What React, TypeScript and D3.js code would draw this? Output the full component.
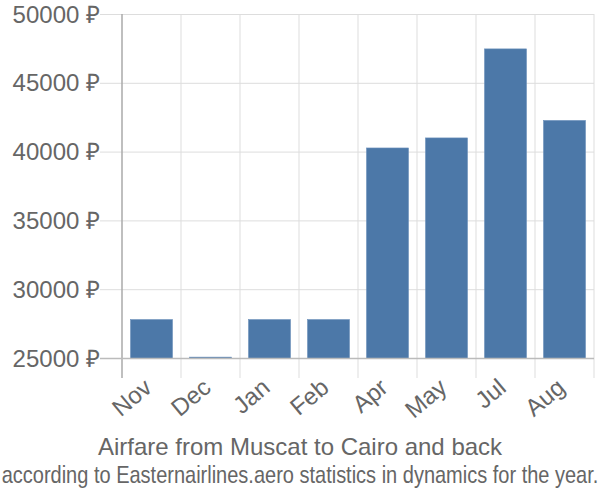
import React, { useEffect, useRef } from "react";
import * as d3 from "d3";

const months = ["Nov", "Dec", "Jan", "Feb", "Apr", "May", "Jul", "Aug"];
const prices = [27830, 25100, 27830, 27830, 40300, 41030, 47500, 42300];
const yTicks = [25000, 30000, 35000, 40000, 45000, 50000];
const title = "Airfare from Muscat to Cairo and back";
const subtitle = "according to Easternairlines.aero statistics in dynamics for the year.";

const W = 600;
const H = 500;

export default function App() {
  const ref = useRef<SVGSVGElement>(null);
  useEffect(() => {
    const svg = d3.select(ref.current);
    svg.selectAll("*").remove();
    const font = "'Liberation Sans', Arial, sans-serif";
    const x = d3.scaleBand<string>().domain(months).range([122, 594]).paddingInner(0).paddingOuter(0);
    const y = d3.scaleLinear().domain([25000, 50000]).range([358.5, 14.5]);

    const g = svg.append("g");
    g.selectAll("line.h").data(yTicks).enter().append("line")
      .attr("x1", 100).attr("x2", 594)
      .attr("y1", d => y(d)).attr("y2", d => y(d))
      .attr("stroke", "#dddddd").attr("stroke-width", 1);
    const vx = months.map(m => x(m) as number).concat([594]);
    g.selectAll("line.v").data(vx.slice(1)).enter().append("line")
      .attr("x1", d => d).attr("x2", d => d)
      .attr("y1", 14).attr("y2", 378)
      .attr("stroke", "#dddddd").attr("stroke-width", 1);
    g.append("line").attr("x1", 122).attr("x2", 122).attr("y1", 14).attr("y2", 378)
      .attr("stroke", "#aaaaaa").attr("stroke-width", 1.5);

    const bw = 42;
    g.selectAll("rect.bar").data(months).enter().append("rect")
      .attr("x", d => (x(d) as number) + (x.bandwidth() - bw) / 2)
      .attr("width", bw)
      .attr("y", (d, i) => y(prices[i]))
      .attr("height", (d, i) => y(25000) - y(prices[i]))
      .attr("fill", "#4c78a8")
      .attr("stroke", "#6b8fbb").attr("stroke-width", 0.6);

    g.append("line").attr("x1", 100).attr("x2", 594).attr("y1", y(25000)).attr("y2", y(25000))
      .attr("stroke", "#bbbbbb").attr("stroke-width", 1.5);

    g.selectAll("text.y").data(yTicks).enter().append("text")
      .attr("x", 100).attr("y", d => y(d) + 8)
      .attr("text-anchor", "end")
      .attr("font-family", font).attr("font-size", 24).attr("fill", "#666666")
      .text(d => `${d} ₽`);

    g.selectAll("text.x").data(months).enter().append("text")
      .attr("transform", d => `translate(${(x(d) as number) + x.bandwidth() / 2 + 2},${390}) rotate(-40)`)
      .attr("text-anchor", "end")
      .attr("font-family", font).attr("font-size", 24).attr("fill", "#666666")
      .text(d => d);

    svg.append("text").attr("x", 300).attr("y", 455).attr("text-anchor", "middle")
      .attr("font-family", font).attr("font-size", 24).attr("fill", "#666666").text(title);
    const sub = svg.append("text")
      .attr("text-anchor", "middle")
      .attr("font-family", font).attr("font-size", 24).attr("fill", "#666666").text(subtitle);
    const node = sub.node() as SVGTextElement;
    const len = node.getComputedTextLength() || 700;
    const k = Math.min(1, 597 / len);
    sub.attr("transform", `translate(300,483) scale(${k},1)`);
  }, []);
  return (
    <svg ref={ref} width={W} height={H} style={{ position: "absolute", left: 0, top: 0, background: "#fff" }} />
  );
}
